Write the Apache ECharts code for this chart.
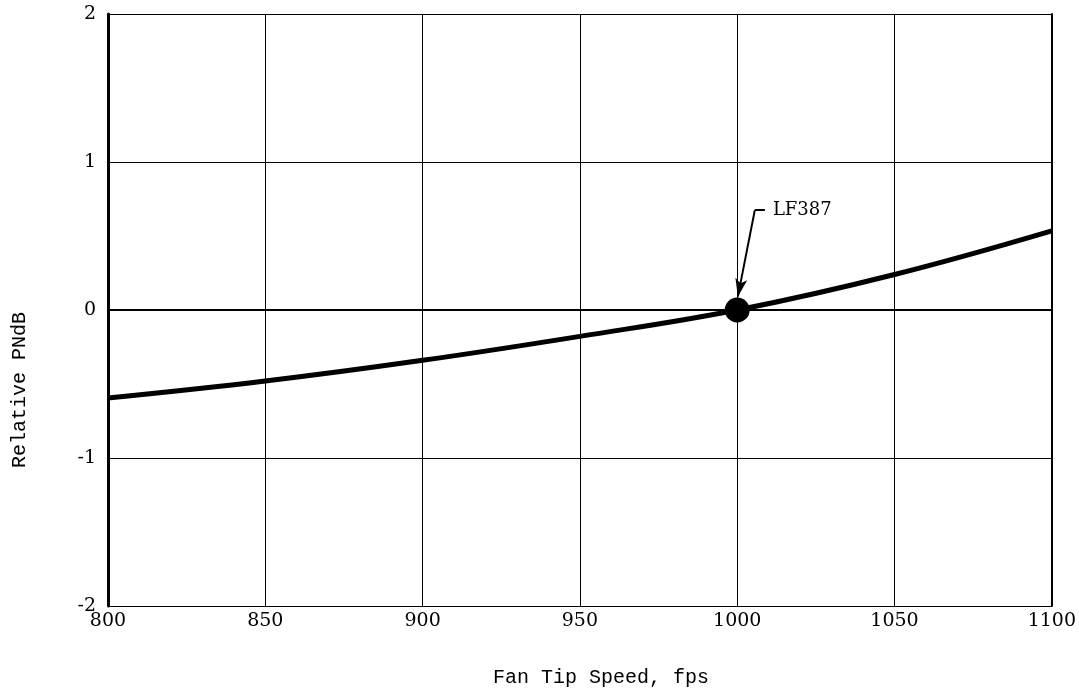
<!DOCTYPE html>
<html>
<head>
<meta charset="utf-8">
<script src="https://cdn.jsdelivr.net/npm/echarts@6/dist/echarts.min.js"></script>
<style>
  html, body { margin: 0; padding: 0; background: #fff; }
  #chart { width: 1079px; height: 694px; }
</style>
</head>
<body>
<div id="chart"></div>
<script>
// values
const tipSpeed = [800, 850, 900, 950, 1000, 1050, 1100];
const relPNdB = [-0.595, -0.48, -0.34, -0.178, 0, 0.24, 0.535];
const designPoint = [1000, 0];
const designName = 'LF387';
const leaderFrom = [1008.8, 0.675];
const leaderCorner = [1005.6, 0.675];
const leaderTip = [1000.2, 0.09];

const curve = tipSpeed.map((v, i) => [v, relPNdB[i]]);

var myChart = echarts.init(document.getElementById('chart'));
const serif = 'DejaVu Serif';
const mono = 'Liberation Mono';

let option = {
  animation: false,
  grid: { left: 108, right: 27, top: 14, bottom: 88 },
  xAxis: {
    type: 'value',
    min: 800,
    max: 1100,
    interval: 50,
    name: 'Fan Tip Speed, fps',
    nameLocation: 'middle',
    nameGap: 62,
    nameTextStyle: { fontFamily: mono, fontSize: 20, color: '#000', padding: [0, 0, 0, 42] },
    axisLine: { lineStyle: { color: '#000', width: 2 } },
    axisTick: { show: false },
    axisLabel: {
      fontFamily: serif, fontSize: 19, color: '#000', margin: 6,
      formatter: v => String(v)
    },
    splitLine: { show: true, lineStyle: { color: '#000', width: 1 } }
  },
  yAxis: [
    {
      type: 'value',
      min: -2,
      max: 2,
      interval: 1,
      name: 'Relative PNdB',
      nameLocation: 'middle',
      nameGap: 78,
      nameTextStyle: { fontFamily: mono, fontSize: 20, color: '#000', padding: [0, 160, 0, 0] },
      axisLine: { show: true, lineStyle: { color: '#000', width: 3 } },
      axisTick: { show: false },
      axisLabel: { fontFamily: serif, fontSize: 19, color: '#000', margin: 12 },
      splitLine: { show: true, lineStyle: { color: '#000', width: 1 } }
    },
    {
      type: 'value',
      position: 'right',
      min: -2,
      max: 2,
      interval: 1,
      axisLine: { show: true, lineStyle: { color: '#000', width: 2 } },
      axisTick: { show: false },
      axisLabel: { show: false },
      splitLine: { show: false }
    }
  ],
  series: [
    {
      name: 'curve',
      type: 'line',
      data: curve,
      smooth: 0.4,
      symbol: 'none',
      lineStyle: { color: '#000', width: 5 }
    },
    {
      name: 'design',
      type: 'scatter',
      data: [designPoint],
      symbolSize: 25,
      itemStyle: { color: '#000', opacity: 1 },
      z: 3,
      markLine: {
        silent: true,
        lineStyle: { color: '#000', width: 2, type: 'solid' },
        label: { show: false },
        data: [
          [
            { coord: leaderFrom, symbol: 'none' },
            { coord: leaderCorner, symbol: 'none' }
          ],
          [
            { coord: leaderCorner, symbol: 'none' },
            { coord: leaderTip, symbol: 'arrow', symbolSize: [9, 18] }
          ]
        ]
      }
    },
    {
      name: 'label',
      type: 'scatter',
      data: [leaderFrom],
      symbolSize: 0,
      itemStyle: { opacity: 1 },
      label: {
        show: true,
        position: 'right',
        distance: 8,
        formatter: designName,
        fontFamily: serif,
        fontSize: 18,
        color: '#000',
        opacity: 1
      }
    }
  ]
};
myChart.setOption(option);
</script>
</body>
</html>
